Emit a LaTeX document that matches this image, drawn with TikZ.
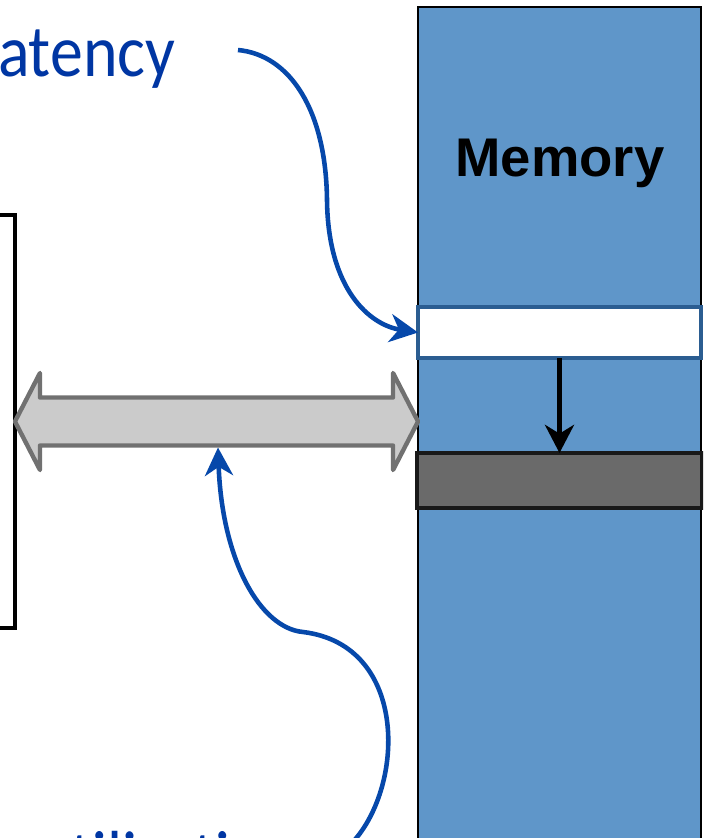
\documentclass[tikz,border=0pt]{standalone}
\usepackage{fontspec}
\setsansfont{Liberation Sans}
\newfontfamily\slidefont{Carlito}
\usetikzlibrary{arrows.meta,calc}
\definecolor{memblue}{HTML}{5F96C9}
\definecolor{rowedge}{HTML}{2B5D91}
\definecolor{darkrow}{HTML}{6A6A6A}
\definecolor{busfill}{HTML}{CBCBCB}
\definecolor{busline}{HTML}{717171}
\definecolor{note}{HTML}{0036A3}
\definecolor{curve}{HTML}{0648AA}
\tikzset{cell/.style={inner sep=0pt,outer sep=0pt,minimum width=5.66cm},
  membox/.style={cell,draw=black,line width=1pt,fill=memblue,minimum height=17.86cm},
  rowbox/.style={cell,draw=rowedge,line width=2.7pt,fill=white,minimum height=1.02cm},
  darkbox/.style={cell,draw=black!90,line width=2.7pt,fill=darkrow,minimum width=5.7cm,minimum height=1.1cm},
  cpubox/.style={draw=black,line width=2.6pt,inner sep=0pt,outer sep=0pt,minimum width=3.8cm,minimum height=8.26cm},
  bus/.style={draw=busline,fill=busfill,line width=2.5pt,line join=round},
  note/.style={inner sep=0pt,text=note,font=\slidefont\fontsize{37.5}{40}\selectfont},
  link/.style={-{Stealth[length=16pt,width=16pt,inset=5pt]},draw=curve,line width=2.6pt},
  move/.style={-{Stealth[length=16pt,width=16.5pt,inset=5pt]},line width=2.8pt}}

\begin{document}
\begin{tikzpicture}[x=0.02cm,y=-0.02cm]
\useasboundingbox (0,0) rectangle (703,838);
\clip (0,0) rectangle (703,838);
\node[membox] (mem) at (559.5,453.5) {};
\node[font=\sffamily\bfseries\fontsize{31}{36}\selectfont,anchor=base,inner sep=0pt] (memlabel) at (560,176) {Memory};
\node[rowbox] (row) at (559.5,332.5) {};
\node[darkbox] (dark) at (559.5,480.5) {};
\draw[move] (row.south) -- (dark.north);
\node[cpubox] (cpu) at (-80,421.5) {};
\coordinate (busl) at (cpu.east);
\coordinate (busr) at (mem.west |- cpu.east);
\draw[bus] (busl) -- ($(busl)+(25,-48.5)$) -- ($(busl)+(25,-24)$) -- ($(busr)+(-25,-24)$) -- ($(busr)+(-25,-48.5)$) -- (busr) -- ($(busr)+(-25,48.5)$) -- ($(busr)+(-25,24)$) -- ($(busl)+(25,24)$) -- ($(busl)+(25,48.5)$) -- cycle;
\coordinate (busfoot) at ($(busl)+(203,26)$);
\node[note,anchor=base west] (lat) at (-30,77) {\scalebox{1}[1.12]{Latency}};
\node[note,anchor=base west] (util) at (36,882) {\scalebox{1}[1.12]{utilization}};
\coordinate (latend) at (238,50);
\coordinate (utilend) at (350,845);
\draw[link] (latend) .. controls (290,55) and (326,110) .. (327,200) .. controls (328,290) and (370,325) .. (row.west);
\draw[link] (utilend) .. controls (405,790) and (410,645) .. (303,632) .. controls (260,628) and (222,560) .. (busfoot);
\end{tikzpicture}
\end{document}
